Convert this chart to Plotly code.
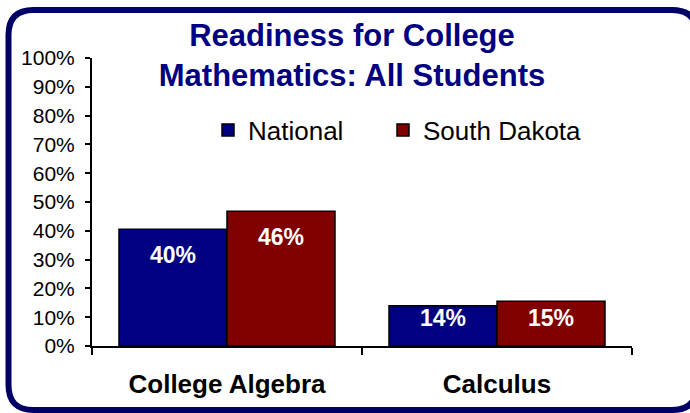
import plotly.graph_objects as go

categories = ["College Algebra", "Calculus"]
series_names = ["National", "South Dakota"]
national = [40.5, 14.0]
south_dakota = [46.8, 15.5]
national_labels = ["40%", "14%"]
south_dakota_labels = ["46%", "15%"]
y_ticks = list(range(0, 101, 10))
y_tick_labels = [f"{t}%" for t in y_ticks]

colors = ["#000080", "#800000"]
FONT = "Liberation Sans, Arial, sans-serif"

# layout geometry (pixels)
WIDTH, HEIGHT = 690, 413
L, R, T, B = 92, 58, 58, 67
PW, PH = WIDTH - L - R, HEIGHT - T - B
BARGAP = 0.2

fig = go.Figure()
for i, (name, vals, col) in enumerate(zip(series_names, [national, south_dakota], colors)):
    fig.add_trace(go.Bar(
        name=name, x=categories, y=vals,
        marker=dict(color=col, line=dict(color="black", width=1.5)),
        hoverinfo="skip", showlegend=True, legend="legend" if i == 0 else "legend2",
    ))

# data labels
cat_px = PW / len(categories)
bar_px = cat_px * (1 - BARGAP) / len(series_names)
annotations = []
for si, (vals, labs) in enumerate([(national, national_labels), (south_dakota, south_dakota_labels)]):
    shift = (si - (len(series_names) - 1) / 2) * bar_px
    for c, v, lab in zip(categories, vals, labs):
        annotations.append(dict(
            x=c, y=max(v - 9, 9.7), xref="x", yref="y", text=lab, showarrow=False,
            xshift=shift, font=dict(family=FONT, size=23, color="white", weight="bold"),
            yanchor="middle",
        ))

def px2paper(px, py):
    return (px - L) / PW, (HEIGHT - B - py) / PH

# rounded border
x0, x1, y0, y1, r = 8.5, 697, 10, 410, 25
pts = [
    ("M", [(x0 + r, y0)]),
    ("L", [(x1 - r, y0)]),
    ("Q", [(x1, y0), (x1, y0 + r)]),
    ("L", [(x1, y1 - r)]),
    ("Q", [(x1, y1), (x1 - r, y1)]),
    ("L", [(x0 + r, y1)]),
    ("Q", [(x0, y1), (x0, y1 - r)]),
    ("L", [(x0, y0 + r)]),
    ("Q", [(x0, y0), (x0 + r, y0)]),
]
path = ""
for cmd, ps in pts:
    path += cmd + " ".join("%.5f,%.5f" % px2paper(a, b) for a, b in ps) + " "
path += "Z"

legend_common = dict(
    orientation="h", xanchor="left", y=(HEIGHT - B - 130) / PH, yanchor="middle",
    font=dict(family=FONT, size=26, color="black"), bgcolor="rgba(0,0,0,0)",
)

fig.update_layout(
    width=WIDTH, height=HEIGHT, showlegend=True,
    margin=dict(l=L, r=R, t=T, b=B),
    paper_bgcolor="white", plot_bgcolor="white",
    barmode="group", bargap=BARGAP, bargroupgap=0,
    title=dict(
        text="Readiness for College<br>Mathematics: All Students",
        x=352 / WIDTH, xanchor="center", y=1 - 46 / HEIGHT, yanchor="middle",
        font=dict(family=FONT, size=31, color="#000080", weight="bold"),
    ),
    legend=dict(x=(208 - L) / PW, **legend_common),
    legend2=dict(x=(383 - L) / PW, **legend_common),
    xaxis=dict(
        showline=True, linecolor="black", linewidth=2, ticks="outside", tickson="boundaries",
        ticklen=7, tickwidth=2, tickcolor="black", showgrid=False,
        tickfont=dict(family=FONT, size=26, color="black", weight="bold"), ticklabelstandoff=14,
    ),
    yaxis=dict(
        range=[0, 100], tickvals=y_ticks, ticktext=y_tick_labels,
        showline=True, linecolor="black", linewidth=2, ticks="outside", ticklen=5,
        tickwidth=2, tickcolor="black", showgrid=False, zeroline=False,
        tickfont=dict(family=FONT, size=21, color="black"), ticklabelstandoff=6,
    ),
    annotations=annotations,
    shapes=[dict(type="path", path=path, xref="paper", yref="paper",
                 line=dict(color="#000066", width=6), layer="above")],
)

fig.write_html("out.html", config={"displayModeBar": False},
               post_script="document.body.style.margin='0';")
